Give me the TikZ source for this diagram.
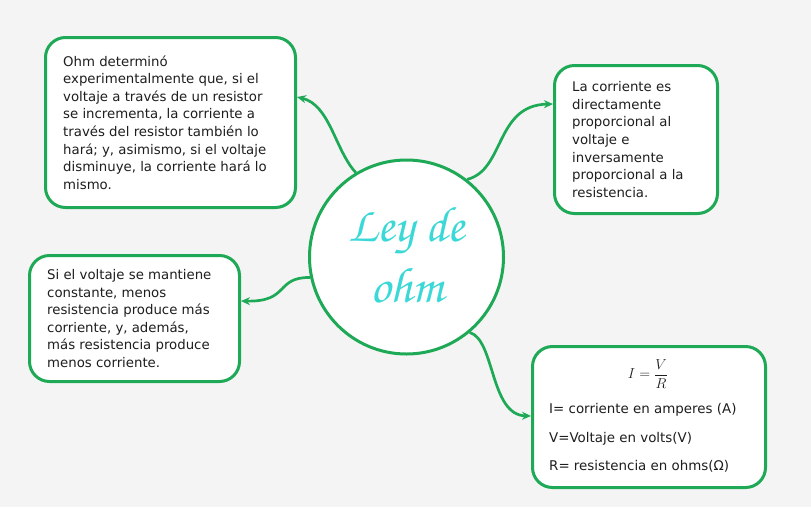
\documentclass[tikz,border=0pt]{standalone}
\usepackage{fontspec}
\setmainfont{DejaVu Sans}
\usetikzlibrary{calc,arrows.meta}
\definecolor{bg}{HTML}{F4F4F4}
\definecolor{grn}{HTML}{1DA955}
\definecolor{cyn}{HTML}{3AD8D6}
\definecolor{ink}{HTML}{1E1E1E}
\begin{document}
\begin{tikzpicture}[x=1pt,y=-1pt,
  box/.style={draw=grn, line width=3pt, fill=white, rounded corners=20pt, anchor=north west, inner sep=0pt},
  txt/.style={align=left, anchor=west, inner sep=0pt, text=ink, font=\fontsize{13.3}{17.6}\selectfont},
  ln/.style={text=ink, anchor=base west, inner sep=0pt, font=\fontsize{13.4}{17.6}\selectfont},
  conn/.style={draw=grn, line width=2.7pt, -{Stealth[length=9pt,width=8pt]}}]
\fill[bg] (0,0) rectangle (811,507);
\useasboundingbox (0,0) rectangle (811,507);
% central circle
\node[circle, draw=grn, line width=3pt, fill=white, minimum size=194pt, inner sep=0pt] (c) at (406.5,257) {};
\node[text=cyn, align=center, inner sep=0pt, font=\fontencoding{OT1}\fontfamily{pzc}\fontsize{50}{61}\selectfont] (title) at (406.5,255) {Ley de\\ohm};
% boxes
\node[box, minimum width=250pt, minimum height=170pt] (b1) at (44,36) {};
\node[box, minimum width=163pt, minimum height=148pt] (b2) at (553,64) {};
\node[box, minimum width=210pt, minimum height=126pt] (b3) at (28,254) {};
\node[box, minimum width=233pt, minimum height=141pt] (b4) at (531,345) {};
% texts
\node[txt] (t1) at ($(b1.west)+(19,0)$) {Ohm determinó\\experimentalmente que, si el\\voltaje a través de un resistor\\se incrementa, la corriente a\\través del resistor también lo\\hará; y, asimismo, si el voltaje\\disminuye, la corriente hará lo\\mismo.};
\node[txt] (t2) at ($(b2.west)+(19,0)$) {La corriente es\\directamente\\proporcional al\\voltaje e\\inversamente\\proporcional a la\\resistencia.};
\node[txt] (t3) at ($(b3.west)+(19,0)$) {Si el voltaje se mantiene\\constante, menos\\resistencia produce más\\corriente, y, además,\\más resistencia produce\\menos corriente.};
\node[text=ink, inner sep=0pt, font=\fontsize{15}{18}\selectfont] (f) at (648,374) {$\displaystyle I=\frac{V}{R}$};
\node[ln] (l1) at (549,413) {I= corriente en amperes (A)};
\node[ln] (l2) at (549,442) {V=Voltaje en volts(V)};
\node[ln] (l3) at (549,470) {R= resistencia en ohms(Ω)};
% connectors
\draw[conn] (c.121) .. controls (335,150) and (330,105) .. ($(b1.north east)+(0,61)$);
\draw[conn] (c.52) .. controls (505,170) and (495,105) .. ($(b2.north west)+(0,40)$);
\draw[conn] (c.192) .. controls (275,277) and (290,302) .. ($(b3.north east)+(0,47)$);
\draw[conn] (c.-50) .. controls (495,340) and (490,415) .. ($(b4.north west)+(0,71)$);
\end{tikzpicture}
\end{document}
